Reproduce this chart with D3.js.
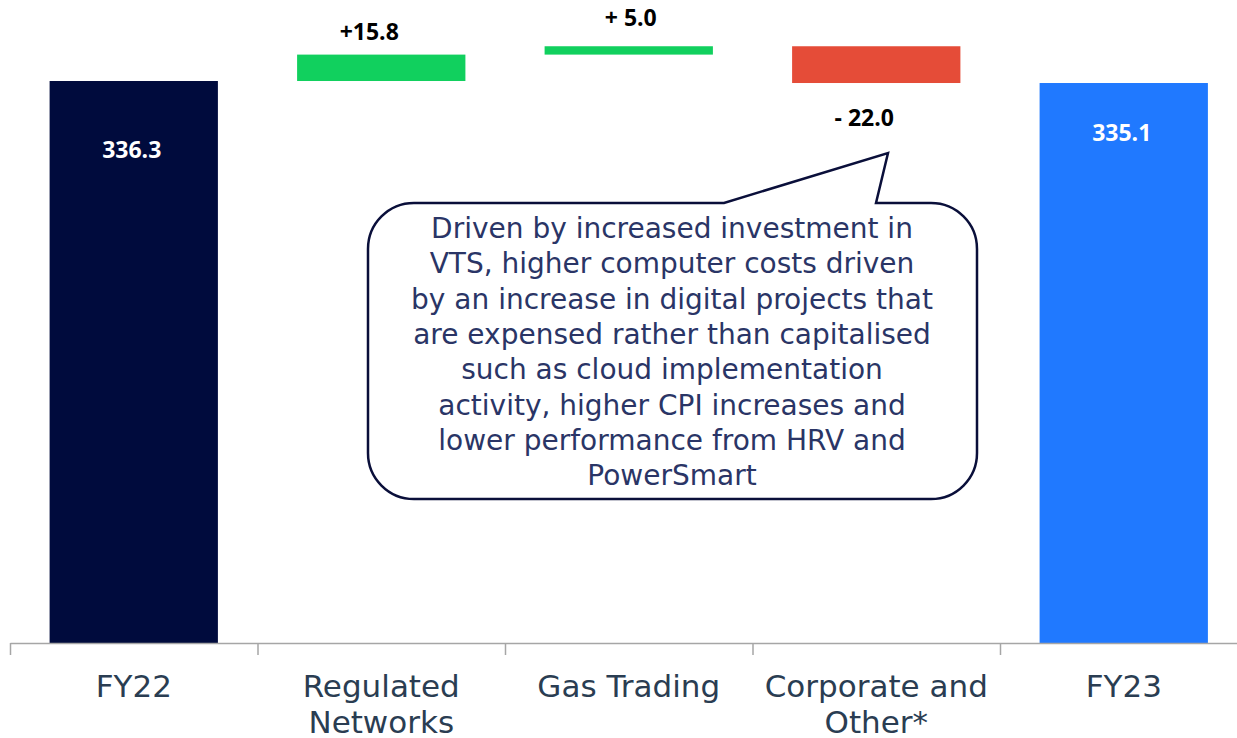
<!DOCTYPE html>
<html>
<head>
    <title>Waterfall FY22 to FY23</title>
    <script src="https://cdn.jsdelivr.net/npm/d3@7/dist/d3.min.js"></script>
    <style>
        body { margin: 0; background: #fff; }
    </style>
</head>
<body>
    <svg width="1237" height="738" id="mainsvg"></svg>
    <script>
        // data
        const categories = [["FY22"], ["Regulated", "Networks"], ["Gas Trading"], ["Corporate and", "Other*"], ["FY23"]];
        const values = [336.3, 15.8, 5.0, -22.0, 335.1];
        const kinds = ["total", "delta", "delta", "delta", "total"];
        const valueLabels = ["336.3", "+15.8", "+ 5.0", "- 22.0", "335.1"];
        const calloutLines = [
            "Driven by increased investment in",
            "VTS, higher computer costs driven",
            "by an increase in digital projects that",
            "are expensed rather than capitalised",
            "such as cloud implementation",
            "activity,  higher CPI increases and",
            "lower performance from HRV and",
            "PowerSmart"
        ];

        const svg = d3.select('svg');
        const baseY = 643;
        const axisLeft = 10, axisRight = 1247.5;

        const xBand = d3.scaleBand().domain(d3.range(values.length))
            .range([axisLeft, axisRight]).paddingInner(0.32).paddingOuter(0.16);
        const yScale = d3.scaleLinear().domain([0, 380]).range([baseY, baseY - 380 * 1.6711]);

        // build waterfall start/end
        let running = 0;
        const bars = values.map((v, i) => {
            let y0, y1;
            if (kinds[i] === 'total') { y0 = 0; y1 = v; running = v; }
            else { y0 = running; y1 = running + v; running = y1; }
            return {i, v, y0, y1, kind: kinds[i], label: valueLabels[i]};
        });
        const color = d => d.kind === 'total' ? (d.i === 0 ? '#000b3d' : '#2079ff') : (d.v >= 0 ? '#11d05e' : '#e54c38');

        svg.append('g').selectAll('rect').data(bars).join('rect')
            .attr('x', d => xBand(d.i))
            .attr('width', xBand.bandwidth())
            .attr('y', d => yScale(Math.max(d.y0, d.y1)))
            .attr('height', d => Math.abs(yScale(d.y0) - yScale(d.y1)))
            .attr('fill', color);

        // axis with ticks on the band edges
        const edge = d3.scaleLinear().domain([0, values.length]).range([axisLeft, axisRight]);
        const xAxis = d3.axisBottom(edge).tickValues(d3.range(values.length + 1))
            .tickFormat('').tickSizeInner(12).tickSizeOuter(0);
        const axisG = svg.append('g').attr('transform', `translate(0, ${baseY})`).call(xAxis);
        axisG.selectAll('path, line').attr('stroke', '#a6a6a6').attr('stroke-width', 1.5);

        // category labels
        const catG = svg.append('g');
        categories.forEach((lines, i) => {
            const cx = xBand(i) + xBand.bandwidth() / 2;
            const t = catG.append('text')
                .attr('y', 697)
                .attr('text-anchor', 'middle')
                .attr('font-family', 'DejaVu Sans, sans-serif')
                .attr('font-size', 31)
                .attr('fill', '#2a3d52');
            lines.forEach((l, k) => t.append('tspan')
                .attr('x', cx).attr('dy', k === 0 ? 0 : 36).text(l));
        });

        // value labels
        const labelY = d => {
            if (d.kind === 'total') return yScale(d.y1) + (d.i === 0 ? 77 : 58);
            if (d.v >= 0) return yScale(d.y1) - (d.i === 1 ? 15 : 20);
            return yScale(d.y1) + 43;
        };
        const labelDx = d => (d.kind === 'delta' && d.i !== 2) ? -12 : (d.kind === 'total' ? -2 : 2);
        svg.append('g').selectAll('text').data(bars).join('text')
            .attr('x', d => xBand(d.i) + xBand.bandwidth() / 2 + labelDx(d))
            .attr('y', labelY)
            .attr('text-anchor', 'middle')
            .attr('font-family', 'Open Sans, sans-serif')
            .attr('font-weight', 700)
            .attr('font-size', 23)
            .attr('fill', d => d.kind === 'total' ? '#fff' : '#000')
            .text(d => d.label);

        // callout bubble
        const bx0 = 368, bx1 = 977, by0 = 203, by1 = 499, r = 46;
        const tip = [888, 153], p1 = 724, p2 = 876;
        const path = d3.path();
        path.moveTo(bx0 + r, by0);
        path.lineTo(p1, by0);
        path.lineTo(tip[0], tip[1]);
        path.lineTo(p2, by0);
        path.lineTo(bx1 - r, by0);
        path.arcTo(bx1, by0, bx1, by0 + r, r);
        path.lineTo(bx1, by1 - r);
        path.arcTo(bx1, by1, bx1 - r, by1, r);
        path.lineTo(bx0 + r, by1);
        path.arcTo(bx0, by1, bx0, by1 - r, r);
        path.lineTo(bx0, by0 + r);
        path.arcTo(bx0, by0, bx0 + r, by0, r);
        path.closePath();
        svg.append('path').attr('d', path.toString())
            .attr('fill', '#fff').attr('stroke', '#0a0f3a').attr('stroke-width', 2.5)
            .attr('stroke-linejoin', 'miter');

        const ct = svg.append('text')
            .attr('text-anchor', 'middle')
            .attr('font-family', 'DejaVu Sans, sans-serif')
            .attr('font-size', 28)
            .attr('fill', '#2a3566');
        calloutLines.forEach((l, k) => ct.append('tspan')
            .attr('x', 672).attr('y', 238 + k * 35.3).text(l));
    </script>
</body>
</html>
